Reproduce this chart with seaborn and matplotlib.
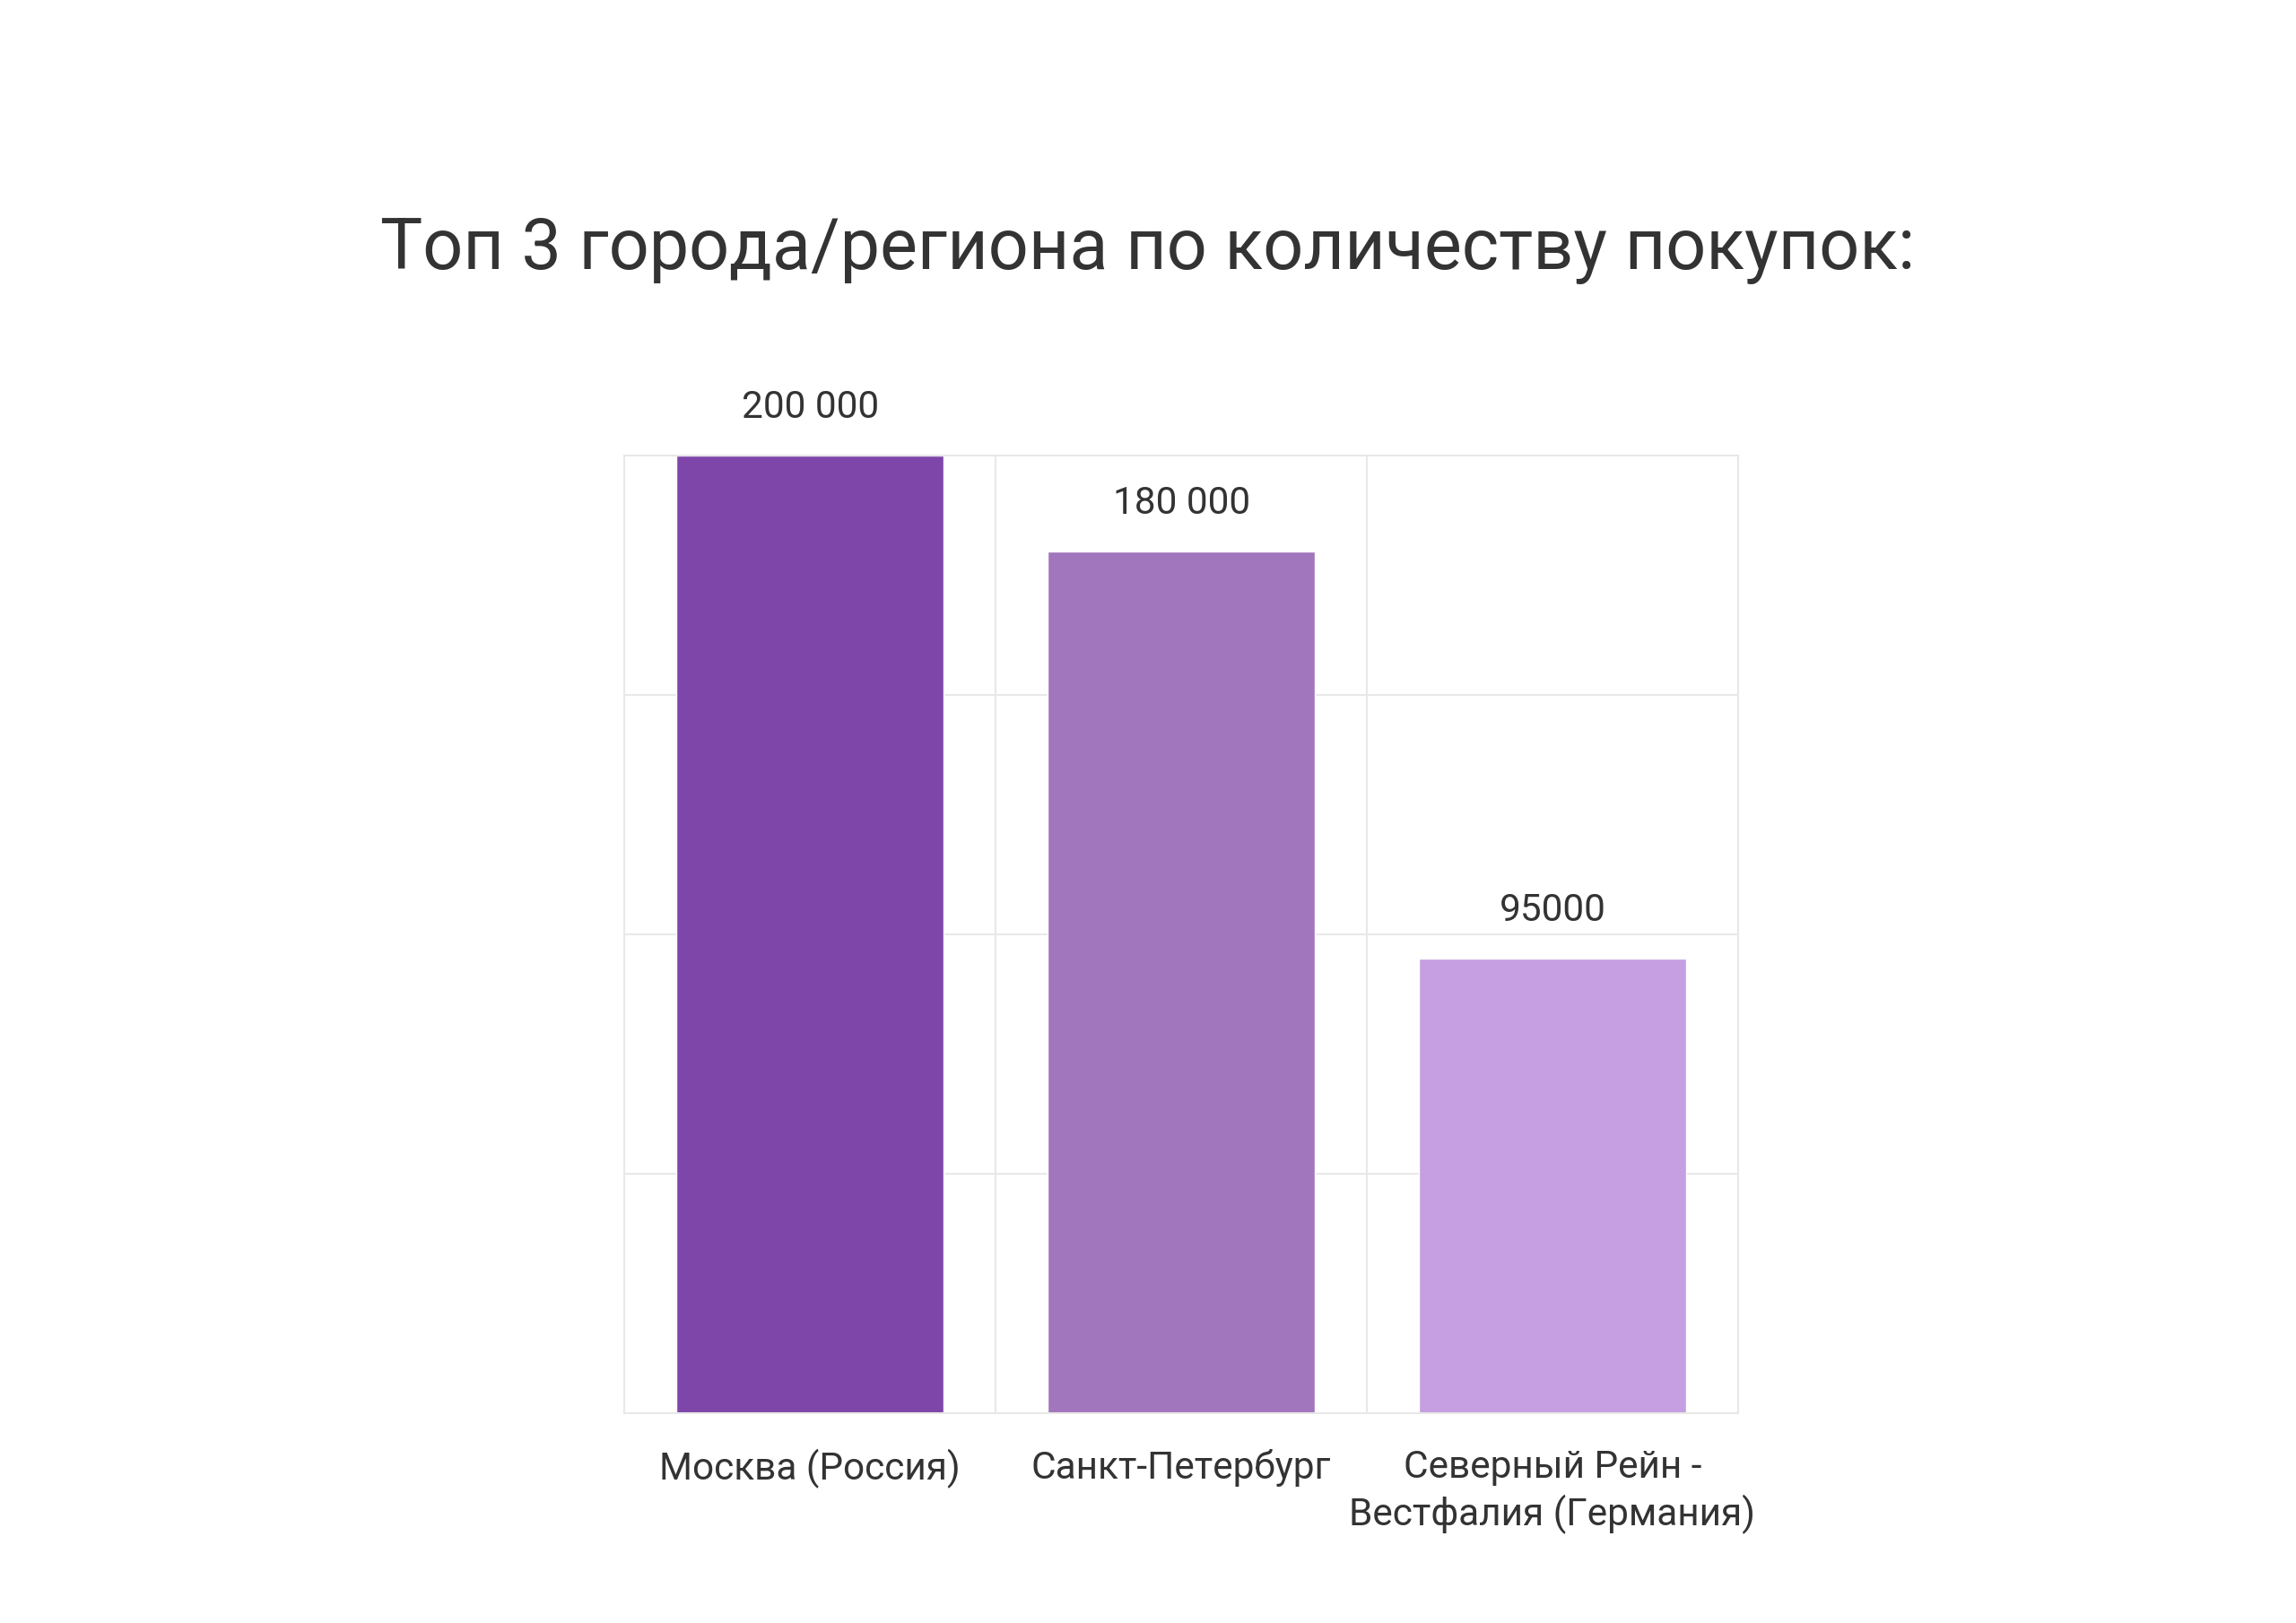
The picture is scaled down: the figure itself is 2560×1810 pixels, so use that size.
import matplotlib
matplotlib.use("Agg")
import matplotlib.pyplot as plt
import seaborn as sns
import pandas as pd
import numpy as np

title = "Топ 3 города/региона по количеству покупок:"
categories = ["Москва (Россия)", "Санкт-Петербург", "Северный Рейн -\nВестфалия (Германия)"]
values = [200000, 180000, 95000]
value_labels = ["200 000", "180 000", "95000"]
colors = ["#7F46AA", "#A276BD", "#C69EE2"]

sns.set_theme(style="white")
plt.rcParams['font.family'] = ['Roboto', 'DejaVu Sans']

df = pd.DataFrame({"cat": categories, "val": values})

fig = plt.figure(figsize=(25.6, 18.1), dpi=100)
ax = fig.add_axes([0.272, 0.1293, 0.757 - 0.272, 0.7193 - 0.1293])

sns.barplot(data=df, x="cat", y="val", hue="cat", palette=colors, width=0.72,
            legend=False, ax=ax, saturation=1)

ax.set_ylim(0, 200000)
ax.set_xlim(-0.5, len(categories) - 0.5)
ax.set_yticks(np.arange(0, 200001, 50000))
ax.set_yticklabels([])
ax.set_xticks(range(len(categories)))
ax.set_xticks(np.arange(-0.5, len(categories), 1.0), minor=True)
ax.set_xticklabels(categories, fontsize=30.5, color="#333333", linespacing=1.28)
ax.tick_params(axis="both", which="both", length=0)
ax.tick_params(axis="x", pad=29)
ax.set_xlabel("")
ax.set_ylabel("")
ax.set_axisbelow(True)
ax.grid(True, axis="y", which="major", color="#e8e8e8", linewidth=1.5)
ax.grid(True, axis="x", which="minor", color="#e8e8e8", linewidth=1.5)
ax.grid(False, axis="x", which="major")
for s in ax.spines.values():
    s.set_color("#e8e8e8")
    s.set_linewidth(1.5)

for i, (v, lab) in enumerate(zip(values, value_labels)):
    ax.annotate(lab, xy=(i, v), xytext=(0, 42), textcoords="offset pixels",
                ha="center", va="baseline", fontsize=30.5, color="#333333",
                annotation_clip=False)

fig.text(0.5, 1 - 300 / 1810, title, ha="center", va="baseline",
         fontsize=57, color="#333333")

fig.savefig("out.png", dpi=100, facecolor="white")
